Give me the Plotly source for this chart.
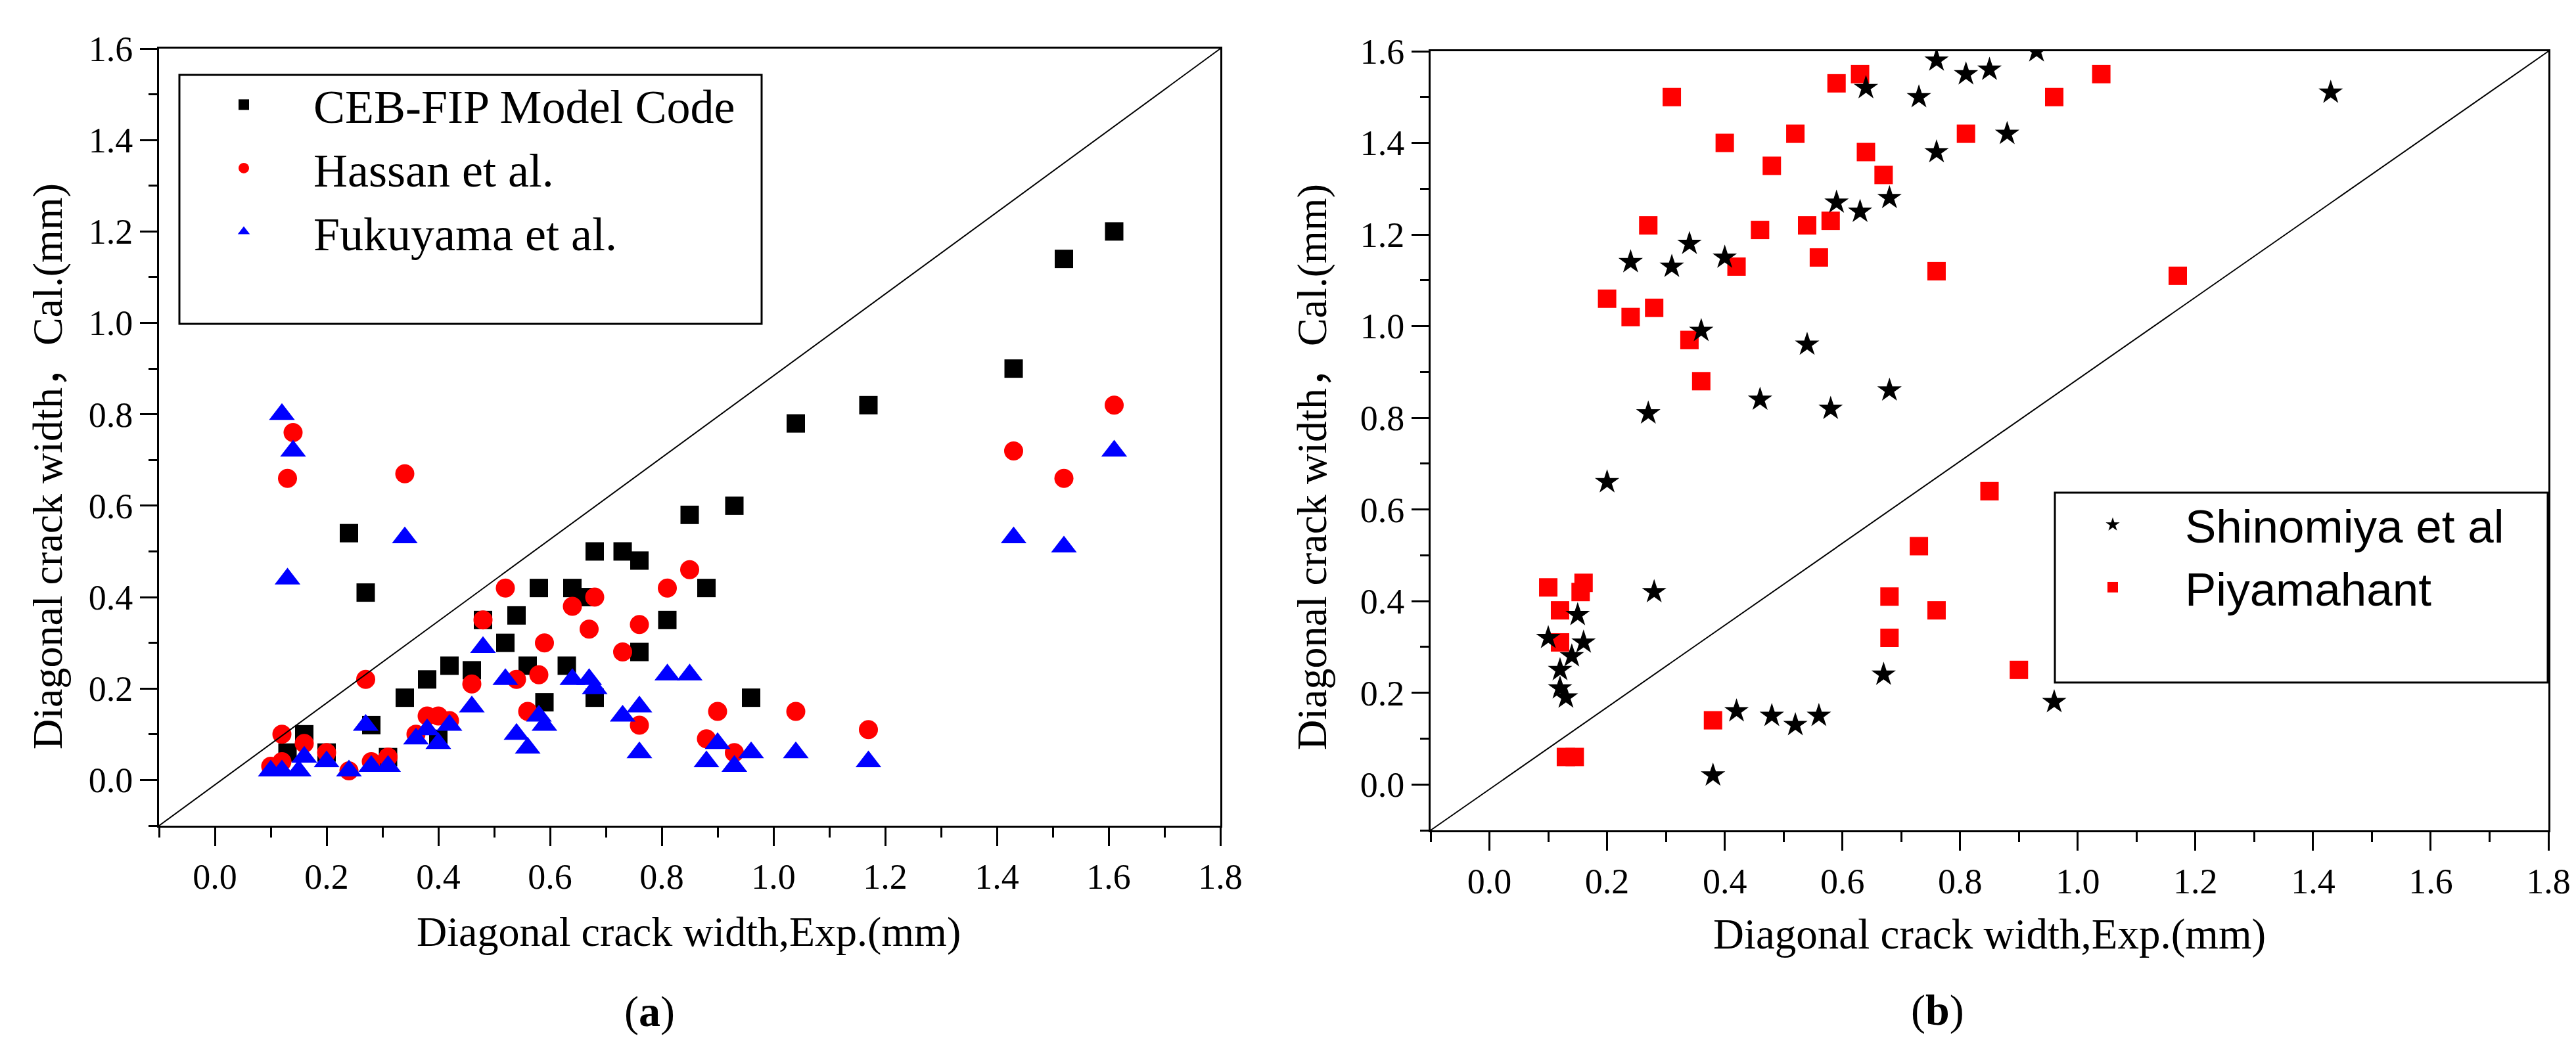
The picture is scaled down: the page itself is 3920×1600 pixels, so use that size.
import plotly.graph_objects as go

W, H = 3920, 1600

# ---------------- data: panel (a) ----------------
ceb_x = [0.13, 0.16, 0.20, 0.24, 0.27, 0.28, 0.31, 0.34, 0.38, 0.40, 0.42, 0.46,
         0.48, 0.52, 0.54, 0.56, 0.58, 0.59, 0.63, 0.64, 0.66, 0.68, 0.68, 0.73,
         0.76, 0.76, 0.81, 0.85, 0.88, 0.93, 0.96, 1.04, 1.17, 1.43, 1.52, 1.61]
ceb_y = [0.06, 0.10, 0.06, 0.54, 0.41, 0.12, 0.05, 0.18, 0.22, 0.09, 0.25, 0.24,
         0.35, 0.30, 0.36, 0.25, 0.42, 0.17, 0.25, 0.42, 0.40, 0.50, 0.18, 0.50,
         0.48, 0.28, 0.35, 0.58, 0.42, 0.60, 0.18, 0.78, 0.82, 0.90, 1.14, 1.20]

hassan_x = [0.10, 0.12, 0.12, 0.13, 0.14, 0.16, 0.20, 0.24, 0.27, 0.28, 0.31, 0.34,
            0.36, 0.38, 0.40, 0.42, 0.46, 0.48, 0.52, 0.54, 0.56, 0.58, 0.59, 0.64,
            0.67, 0.68, 0.73, 0.76, 0.76, 0.81, 0.85, 0.88, 0.90, 0.93, 1.04, 1.17,
            1.43, 1.52, 1.61]
hassan_y = [0.03, 0.10, 0.04, 0.66, 0.76, 0.08, 0.06, 0.02, 0.22, 0.04, 0.05, 0.67,
            0.10, 0.14, 0.14, 0.13, 0.21, 0.35, 0.42, 0.22, 0.15, 0.23, 0.30, 0.38,
            0.33, 0.40, 0.28, 0.34, 0.12, 0.42, 0.46, 0.09, 0.15, 0.06, 0.15, 0.11,
            0.72, 0.66, 0.82]

fuku_x = [0.10, 0.12, 0.15, 0.12, 0.13, 0.14, 0.16, 0.20, 0.24, 0.27, 0.28, 0.31,
          0.34, 0.36, 0.38, 0.40, 0.42, 0.46, 0.48, 0.52, 0.54, 0.56, 0.58, 0.59,
          0.64, 0.67, 0.68, 0.73, 0.76, 0.76, 0.81, 0.85, 0.88, 0.90, 0.93, 0.96,
          1.04, 1.17, 1.43, 1.52, 1.61]
fuku_y = [0.02, 0.02, 0.02, 0.80, 0.44, 0.72, 0.05, 0.04, 0.02, 0.12, 0.03, 0.03,
          0.53, 0.09, 0.11, 0.08, 0.12, 0.16, 0.29, 0.22, 0.10, 0.07, 0.14, 0.12,
          0.22, 0.22, 0.20, 0.14, 0.16, 0.06, 0.23, 0.23, 0.04, 0.08, 0.03, 0.06,
          0.06, 0.04, 0.53, 0.51, 0.72]

# ---------------- data: panel (b) ----------------
shin_x = [0.10, 0.12, 0.12, 0.13, 0.14, 0.15, 0.16, 0.20, 0.24, 0.27, 0.28, 0.31,
          0.34, 0.36, 0.38, 0.40, 0.42, 0.46, 0.48, 0.52, 0.54, 0.56, 0.58, 0.59,
          0.63, 0.64, 0.67, 0.68, 0.68, 0.73, 0.76, 0.76, 0.81, 0.85, 0.88, 0.93,
          0.96, 1.43]
shin_y = [0.32, 0.25, 0.21, 0.19, 0.28, 0.37, 0.31, 0.66, 1.14, 0.81, 0.42, 1.13,
          1.18, 0.99, 0.02, 1.15, 0.16, 0.84, 0.15, 0.13, 0.96, 0.15, 0.82, 1.27,
          1.25, 1.52, 0.24, 1.28, 0.86, 1.50, 1.58, 1.38, 1.55, 1.56, 1.42, 1.60,
          0.18, 1.51]

piya_x = [0.10, 0.12, 0.12, 0.13, 0.145, 0.155, 0.16, 0.20, 0.24, 0.27, 0.28, 0.31,
          0.34, 0.36, 0.38, 0.40, 0.42, 0.46, 0.48, 0.52, 0.54, 0.56, 0.58, 0.59,
          0.63, 0.64, 0.67, 0.68, 0.68, 0.73, 0.76, 0.76, 0.81, 0.85, 0.90, 0.96,
          1.04, 1.17]
piya_y = [0.43, 0.38, 0.31, 0.06, 0.06, 0.42, 0.44, 1.06, 1.02, 1.22, 1.04, 1.50,
          0.97, 0.88, 0.14, 1.40, 1.13, 1.21, 1.35, 1.42, 1.22, 1.15, 1.23, 1.53,
          1.55, 1.38, 1.33, 0.41, 0.32, 0.52, 1.12, 0.38, 1.42, 0.64, 0.25, 1.50,
          1.55, 1.11]

# axis settings
x_range = [-0.1, 1.8]
y_range = [-0.1, 1.6]
x_ticks = [0.0, 0.2, 0.4, 0.6, 0.8, 1.0, 1.2, 1.4, 1.6, 1.8]
y_ticks = [0.0, 0.2, 0.4, 0.6, 0.8, 1.0, 1.2, 1.4, 1.6]
x_title = "Diagonal crack width,Exp.(mm)"
y_title = "Diagonal crack width\uff0cCal.(mm)"

SERIF = "Liberation Serif, Noto Sans CJK SC"
SANS = "Liberation Sans"


def px_x(p):
    return p / W


def px_y(p):
    return (H - p) / H


fig = go.Figure()

# panel (a)
fig.add_trace(go.Scatter(x=ceb_x, y=ceb_y, mode="markers", name="CEB-FIP Model Code",
                         marker=dict(symbol="square", size=28, color="#000000"),
                         xaxis="x", yaxis="y", legend="legend"))
fig.add_trace(go.Scatter(x=hassan_x, y=hassan_y, mode="markers", name="Hassan et al.",
                         marker=dict(symbol="circle", size=29, color="#FF0000"),
                         xaxis="x", yaxis="y", legend="legend"))
fig.add_trace(go.Scatter(x=fuku_x, y=fuku_y, mode="markers", name="Fukuyama et al.",
                         marker=dict(symbol="triangle-up", size=34, color="#0000FF"),
                         xaxis="x", yaxis="y", legend="legend"))

# panel (b)
fig.add_trace(go.Scatter(x=piya_x, y=piya_y, mode="markers", name="Piyamahant",
                         marker=dict(symbol="square", size=28, color="#FF0000"),
                         xaxis="x2", yaxis="y2", legend="legend2", legendrank=2))
fig.add_trace(go.Scatter(x=shin_x, y=shin_y, mode="markers", name="Shinomiya et al",
                         marker=dict(symbol="star", size=28, color="#000000"),
                         xaxis="x2", yaxis="y2", legend="legend2", legendrank=1))

tickfont = dict(family=SERIF, size=54, color="#000000")

def xaxis_cfg(domain, anchor):
    return dict(domain=domain, anchor=anchor, range=x_range, tickmode="array",
                tickvals=x_ticks, tickformat=".1f", ticks="outside", ticklen=28,
                tickwidth=3, tickcolor="#000000", showline=True, linewidth=3,
                linecolor="#000000", mirror=True, showgrid=False, zeroline=False,
                tickfont=tickfont,
                minor=dict(dtick=0.1, tick0=0.1, ticks="outside", ticklen=15,
                           tickwidth=3, tickcolor="#000000", showgrid=False))

def yaxis_cfg(domain, anchor):
    return dict(domain=domain, anchor=anchor, range=y_range, tickmode="array",
                tickvals=y_ticks, tickformat=".1f", ticks="outside", ticklen=26,
                tickwidth=3, tickcolor="#000000", showline=True, linewidth=3,
                linecolor="#000000", mirror=True, showgrid=False, zeroline=False,
                tickfont=tickfont,
                minor=dict(dtick=0.1, tick0=0.1, ticks="outside", ticklen=13,
                           tickwidth=3, tickcolor="#000000", showgrid=False))

shapes = [
    # diagonal of each frame
    dict(type="line", xref="x domain", yref="y domain", x0=0, y0=0, x1=1, y1=1,
         line=dict(color="#000000", width=2)),
    dict(type="line", xref="x2 domain", yref="y2 domain", x0=0, y0=0, x1=1, y1=1,
         line=dict(color="#000000", width=2)),
    # legend frames
    dict(type="rect", xref="paper", yref="paper", x0=px_x(265), x1=px_x(1151),
         y0=px_y(485), y1=px_y(106), line=dict(color="#000000", width=3),
         fillcolor="rgba(0,0,0,0)", layer="above"),
    dict(type="rect", xref="paper", yref="paper", x0=px_x(3119), x1=px_x(3869),
         y0=px_y(1031), y1=px_y(742), line=dict(color="#000000", width=3),
         fillcolor="rgba(0,0,0,0)", layer="above"),
]

annotations = [
    dict(text=x_title, xref="paper", yref="paper", x=px_x(1040), y=px_y(1410),
         xanchor="center", yanchor="middle", showarrow=False,
         font=dict(family=SERIF, size=64, color="#000000")),
    dict(text=x_title, xref="paper", yref="paper", x=px_x(3019), y=px_y(1414),
         xanchor="center", yanchor="middle", showarrow=False,
         font=dict(family=SERIF, size=65, color="#000000")),
    dict(text=y_title, xref="paper", yref="paper", x=px_x(64), y=px_y(702),
         xanchor="center", yanchor="middle", showarrow=False, textangle=-90,
         font=dict(family=SERIF, size=64, color="#000000")),
    dict(text=y_title, xref="paper", yref="paper", x=px_x(1989), y=px_y(703),
         xanchor="center", yanchor="middle", showarrow=False, textangle=-90,
         font=dict(family=SERIF, size=64, color="#000000")),
    dict(text="(<b>a</b>)", xref="paper", yref="paper", x=0.25, y=px_y(1532),
         xanchor="center", yanchor="middle", showarrow=False,
         font=dict(family=SERIF, size=66, color="#000000")),
    dict(text="(<b>b</b>)", xref="paper", yref="paper", x=0.75, y=px_y(1530),
         xanchor="center", yanchor="middle", showarrow=False,
         font=dict(family=SERIF, size=66, color="#000000")),
]

fig.update_layout(
    width=W, height=H,
    margin=dict(l=0, r=0, t=0, b=0, autoexpand=False),
    paper_bgcolor="#FFFFFF", plot_bgcolor="#FFFFFF",
    xaxis=xaxis_cfg([px_x(234), px_x(1849)], "y"),
    yaxis=yaxis_cfg([px_y(1249), px_y(66)], "x"),
    xaxis2=xaxis_cfg([px_x(2169), px_x(3870)], "y2"),
    yaxis2=yaxis_cfg([px_y(1256), px_y(70)], "x2"),
    shapes=shapes,
    annotations=annotations,
    legend=dict(x=px_x(257), y=px_y(98), xanchor="left", yanchor="top",
                bgcolor="rgba(0,0,0,0)", borderwidth=0, itemwidth=202,
                font=dict(family=SERIF, size=72, color="#000000")),
    legend2=dict(x=px_x(3097), y=px_y(738), xanchor="left", yanchor="top",
                 bgcolor="rgba(0,0,0,0)", borderwidth=0, itemwidth=210,
                 font=dict(family=SANS, size=71, color="#000000")),
    showlegend=True,
)

fig.write_html("out.html")
